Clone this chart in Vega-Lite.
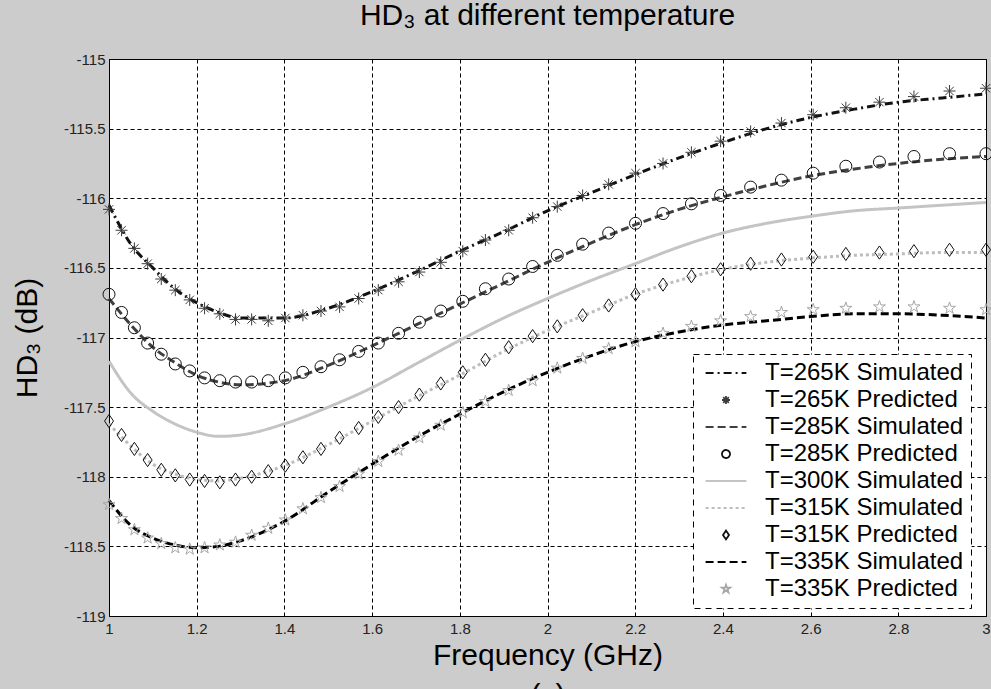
{
  "$schema": "https://vega.github.io/schema/vega-lite/v6.json",
  "width": 877,
  "height": 557,
  "autosize": {"type": "none"},
  "padding": {"left": 109, "top": 59, "right": 5, "bottom": 73},
  "background": "#cccccc",
  "title": {"text": "HD₃ at different temperature", "fontSize": 30, "font": "Liberation Sans", "fontWeight": "normal", "color": "#000000", "anchor": "middle", "offset": -3, "baseline": "alphabetic"},
  "datasets": {
    "sim": [
      {"f": 1.00, "T=265K Simulated": -116.05, "T=285K Simulated": -116.72, "T=300K Simulated": -117.17, "T=315K Simulated": -117.62, "T=335K Simulated": -118.17},
      {"f": 1.05, "T=265K Simulated": -116.33, "T=285K Simulated": -116.91, "T=300K Simulated": -117.40, "T=315K Simulated": -117.78, "T=335K Simulated": -118.35},
      {"f": 1.10, "T=265K Simulated": -116.50, "T=285K Simulated": -117.07, "T=300K Simulated": -117.53, "T=315K Simulated": -117.91, "T=335K Simulated": -118.44},
      {"f": 1.15, "T=265K Simulated": -116.65, "T=285K Simulated": -117.18, "T=300K Simulated": -117.62, "T=315K Simulated": -117.98, "T=335K Simulated": -118.49},
      {"f": 1.20, "T=265K Simulated": -116.75, "T=285K Simulated": -117.27, "T=300K Simulated": -117.68, "T=315K Simulated": -118.02, "T=335K Simulated": -118.51},
      {"f": 1.25, "T=265K Simulated": -116.82, "T=285K Simulated": -117.32, "T=300K Simulated": -117.71, "T=315K Simulated": -118.03, "T=335K Simulated": -118.50},
      {"f": 1.30, "T=265K Simulated": -116.86, "T=285K Simulated": -117.34, "T=300K Simulated": -117.70, "T=315K Simulated": -118.01, "T=335K Simulated": -118.46},
      {"f": 1.40, "T=265K Simulated": -116.86, "T=285K Simulated": -117.31, "T=300K Simulated": -117.62, "T=315K Simulated": -117.92, "T=335K Simulated": -118.32},
      {"f": 1.50, "T=265K Simulated": -116.79, "T=285K Simulated": -117.20, "T=300K Simulated": -117.50, "T=315K Simulated": -117.77, "T=335K Simulated": -118.11},
      {"f": 1.60, "T=265K Simulated": -116.67, "T=285K Simulated": -117.06, "T=300K Simulated": -117.36, "T=315K Simulated": -117.60, "T=335K Simulated": -117.91},
      {"f": 1.70, "T=265K Simulated": -116.53, "T=285K Simulated": -116.91, "T=300K Simulated": -117.19, "T=315K Simulated": -117.43, "T=335K Simulated": -117.72},
      {"f": 1.80, "T=265K Simulated": -116.38, "T=285K Simulated": -116.76, "T=300K Simulated": -117.02, "T=315K Simulated": -117.27, "T=335K Simulated": -117.55},
      {"f": 1.90, "T=265K Simulated": -116.24, "T=285K Simulated": -116.61, "T=300K Simulated": -116.86, "T=315K Simulated": -117.10, "T=335K Simulated": -117.39},
      {"f": 2.00, "T=265K Simulated": -116.09, "T=285K Simulated": -116.46, "T=300K Simulated": -116.72, "T=315K Simulated": -116.95, "T=335K Simulated": -117.25},
      {"f": 2.10, "T=265K Simulated": -115.96, "T=285K Simulated": -116.32, "T=300K Simulated": -116.59, "T=315K Simulated": -116.82, "T=335K Simulated": -117.13},
      {"f": 2.20, "T=265K Simulated": -115.83, "T=285K Simulated": -116.19, "T=300K Simulated": -116.47, "T=315K Simulated": -116.69, "T=335K Simulated": -117.03},
      {"f": 2.30, "T=265K Simulated": -115.71, "T=285K Simulated": -116.08, "T=300K Simulated": -116.35, "T=315K Simulated": -116.59, "T=335K Simulated": -116.96},
      {"f": 2.40, "T=265K Simulated": -115.60, "T=285K Simulated": -115.99, "T=300K Simulated": -116.25, "T=315K Simulated": -116.51, "T=335K Simulated": -116.91},
      {"f": 2.50, "T=265K Simulated": -115.50, "T=285K Simulated": -115.91, "T=300K Simulated": -116.18, "T=315K Simulated": -116.46, "T=335K Simulated": -116.88},
      {"f": 2.60, "T=265K Simulated": -115.42, "T=285K Simulated": -115.84, "T=300K Simulated": -116.13, "T=315K Simulated": -116.43, "T=335K Simulated": -116.85},
      {"f": 2.70, "T=265K Simulated": -115.36, "T=285K Simulated": -115.79, "T=300K Simulated": -116.09, "T=315K Simulated": -116.41, "T=335K Simulated": -116.83},
      {"f": 2.80, "T=265K Simulated": -115.31, "T=285K Simulated": -115.75, "T=300K Simulated": -116.07, "T=315K Simulated": -116.40, "T=335K Simulated": -116.83},
      {"f": 2.90, "T=265K Simulated": -115.28, "T=285K Simulated": -115.72, "T=300K Simulated": -116.05, "T=315K Simulated": -116.39, "T=335K Simulated": -116.84},
      {"f": 3.00, "T=265K Simulated": -115.25, "T=285K Simulated": -115.70, "T=300K Simulated": -116.03, "T=315K Simulated": -116.39, "T=335K Simulated": -116.86}
    ],
    "pred": [
      {"f": 1.0000, "T=265K Predicted": -116.08, "T=285K Predicted": -116.69, "T=315K Predicted": -117.60, "T=335K Predicted": -118.20},
      {"f": 1.0286, "T=265K Predicted": -116.23, "T=285K Predicted": -116.82, "T=315K Predicted": -117.70, "T=335K Predicted": -118.30},
      {"f": 1.0579, "T=265K Predicted": -116.36, "T=285K Predicted": -116.93, "T=315K Predicted": -117.80, "T=335K Predicted": -118.38},
      {"f": 1.0881, "T=265K Predicted": -116.47, "T=285K Predicted": -117.04, "T=315K Predicted": -117.88, "T=335K Predicted": -118.44},
      {"f": 1.1192, "T=265K Predicted": -116.58, "T=285K Predicted": -117.12, "T=315K Predicted": -117.95, "T=335K Predicted": -118.48},
      {"f": 1.1512, "T=265K Predicted": -116.66, "T=285K Predicted": -117.19, "T=315K Predicted": -117.99, "T=335K Predicted": -118.51},
      {"f": 1.1841, "T=265K Predicted": -116.73, "T=285K Predicted": -117.24, "T=315K Predicted": -118.02, "T=335K Predicted": -118.52},
      {"f": 1.2179, "T=265K Predicted": -116.79, "T=285K Predicted": -117.29, "T=315K Predicted": -118.03, "T=335K Predicted": -118.51},
      {"f": 1.2527, "T=265K Predicted": -116.83, "T=285K Predicted": -117.31, "T=315K Predicted": -118.04, "T=335K Predicted": -118.49},
      {"f": 1.2885, "T=265K Predicted": -116.87, "T=285K Predicted": -117.32, "T=315K Predicted": -118.02, "T=335K Predicted": -118.47},
      {"f": 1.3253, "T=265K Predicted": -116.87, "T=285K Predicted": -117.32, "T=315K Predicted": -118.00, "T=335K Predicted": -118.42},
      {"f": 1.3632, "T=265K Predicted": -116.88, "T=285K Predicted": -117.31, "T=315K Predicted": -117.96, "T=335K Predicted": -118.37},
      {"f": 1.4021, "T=265K Predicted": -116.86, "T=285K Predicted": -117.29, "T=315K Predicted": -117.92, "T=335K Predicted": -118.31},
      {"f": 1.4422, "T=265K Predicted": -116.84, "T=285K Predicted": -117.25, "T=315K Predicted": -117.86, "T=335K Predicted": -118.23},
      {"f": 1.4834, "T=265K Predicted": -116.81, "T=285K Predicted": -117.21, "T=315K Predicted": -117.80, "T=335K Predicted": -118.15},
      {"f": 1.5258, "T=265K Predicted": -116.78, "T=285K Predicted": -117.16, "T=315K Predicted": -117.72, "T=335K Predicted": -118.07},
      {"f": 1.5694, "T=265K Predicted": -116.72, "T=285K Predicted": -117.10, "T=315K Predicted": -117.65, "T=335K Predicted": -117.98},
      {"f": 1.6142, "T=265K Predicted": -116.66, "T=285K Predicted": -117.04, "T=315K Predicted": -117.57, "T=335K Predicted": -117.89},
      {"f": 1.6604, "T=265K Predicted": -116.60, "T=285K Predicted": -116.97, "T=315K Predicted": -117.50, "T=335K Predicted": -117.81},
      {"f": 1.7078, "T=265K Predicted": -116.53, "T=285K Predicted": -116.89, "T=315K Predicted": -117.41, "T=335K Predicted": -117.72},
      {"f": 1.7566, "T=265K Predicted": -116.46, "T=285K Predicted": -116.81, "T=315K Predicted": -117.33, "T=335K Predicted": -117.63},
      {"f": 1.8068, "T=265K Predicted": -116.38, "T=285K Predicted": -116.74, "T=315K Predicted": -117.25, "T=335K Predicted": -117.54},
      {"f": 1.8584, "T=265K Predicted": -116.30, "T=285K Predicted": -116.65, "T=315K Predicted": -117.16, "T=335K Predicted": -117.46},
      {"f": 1.9115, "T=265K Predicted": -116.23, "T=285K Predicted": -116.58, "T=315K Predicted": -117.07, "T=335K Predicted": -117.38},
      {"f": 1.9661, "T=265K Predicted": -116.14, "T=285K Predicted": -116.49, "T=315K Predicted": -116.99, "T=335K Predicted": -117.31},
      {"f": 2.0223, "T=265K Predicted": -116.06, "T=285K Predicted": -116.41, "T=315K Predicted": -116.92, "T=335K Predicted": -117.22},
      {"f": 2.0801, "T=265K Predicted": -115.98, "T=285K Predicted": -116.33, "T=315K Predicted": -116.84, "T=335K Predicted": -117.15},
      {"f": 2.1395, "T=265K Predicted": -115.90, "T=285K Predicted": -116.25, "T=315K Predicted": -116.77, "T=335K Predicted": -117.08},
      {"f": 2.2007, "T=265K Predicted": -115.82, "T=285K Predicted": -116.18, "T=315K Predicted": -116.69, "T=335K Predicted": -117.03},
      {"f": 2.2635, "T=265K Predicted": -115.75, "T=285K Predicted": -116.11, "T=315K Predicted": -116.62, "T=335K Predicted": -116.97},
      {"f": 2.3282, "T=265K Predicted": -115.67, "T=285K Predicted": -116.04, "T=315K Predicted": -116.56, "T=335K Predicted": -116.92},
      {"f": 2.3948, "T=265K Predicted": -115.59, "T=285K Predicted": -115.98, "T=315K Predicted": -116.51, "T=335K Predicted": -116.88},
      {"f": 2.4632, "T=265K Predicted": -115.52, "T=285K Predicted": -115.92, "T=315K Predicted": -116.47, "T=335K Predicted": -116.85},
      {"f": 2.5335, "T=265K Predicted": -115.46, "T=285K Predicted": -115.87, "T=315K Predicted": -116.44, "T=335K Predicted": -116.82},
      {"f": 2.6059, "T=265K Predicted": -115.40, "T=285K Predicted": -115.82, "T=315K Predicted": -116.42, "T=335K Predicted": -116.80},
      {"f": 2.6804, "T=265K Predicted": -115.35, "T=285K Predicted": -115.77, "T=315K Predicted": -116.40, "T=335K Predicted": -116.79},
      {"f": 2.7570, "T=265K Predicted": -115.31, "T=285K Predicted": -115.74, "T=315K Predicted": -116.39, "T=335K Predicted": -116.78},
      {"f": 2.8357, "T=265K Predicted": -115.27, "T=285K Predicted": -115.70, "T=315K Predicted": -116.38, "T=335K Predicted": -116.78},
      {"f": 2.9168, "T=265K Predicted": -115.23, "T=285K Predicted": -115.68, "T=315K Predicted": -116.37, "T=335K Predicted": -116.79},
      {"f": 3.0000, "T=265K Predicted": -115.21, "T=285K Predicted": -115.68, "T=315K Predicted": -116.37, "T=335K Predicted": -116.80}
    ]
  },
  "layer": [
    {
      "data": {"name": "sim"},
      "transform": [{"fold": ["T=265K Simulated", "T=285K Simulated", "T=300K Simulated", "T=315K Simulated", "T=335K Simulated"], "as": ["series", "v"]}],
      "mark": {"type": "line", "interpolate": "monotone", "strokeWidth": 3, "clip": false},
      "encoding": {
        "x": {"field": "f", "type": "quantitative", "scale": {"domain": [1, 3], "nice": false, "zero": false},
          "axis": {"values": [1, 1.2, 1.4, 1.6, 1.8, 2, 2.2, 2.4, 2.6, 2.8, 3], "labelExpr": "datum.value + ''", "labelFlush": false, "labelPadding": 5, "title": ["Frequency (GHz)", "(c)"], "titlePadding": 4, "titleLineHeight": 40, "titleFontSize": 30}},
        "y": {"field": "v", "type": "quantitative", "scale": {"domain": [-119, -115], "nice": false, "zero": false},
          "axis": {"values": [-119, -118.5, -118, -117.5, -117, -116.5, -116, -115.5, -115], "labelExpr": "datum.value + ''", "labelFlush": false, "labelPadding": 4, "title": "HD₃ (dB)", "titlePadding": 21, "titleFontSize": 30}},
        "color": {"field": "series", "type": "nominal",
          "scale": {"domain": ["T=265K Simulated", "T=265K Predicted", "T=285K Simulated", "T=285K Predicted", "T=300K Simulated", "T=315K Simulated", "T=315K Predicted", "T=335K Simulated", "T=335K Predicted"],
                    "range": ["#111111", "#3c3c3c", "#404040", "#111111", "#c4c4c4", "#bdbdbd", "#111111", "#000000", "#a6a6a6"]},
          "legend": {"title": null, "encoding": {"legend": {"strokeDash": {"value": [6, 5]}}}}},
        "strokeDash": {"field": "series", "type": "nominal",
          "scale": {"domain": ["T=265K Simulated", "T=265K Predicted", "T=285K Simulated", "T=285K Predicted", "T=300K Simulated", "T=315K Simulated", "T=315K Predicted", "T=335K Simulated", "T=335K Predicted"],
                    "range": [[8, 4, 2, 4], [1, 0], [8, 4], [1, 0], [1, 0], [3, 3], [1, 0], [8, 4], [1, 0]]},
          "legend": {"title": null}}
      }
    },
    {
      "data": {"name": "pred"},
      "transform": [{"fold": ["T=265K Predicted", "T=285K Predicted", "T=315K Predicted", "T=335K Predicted"], "as": ["series", "v"]}],
      "mark": {"type": "point", "filled": false, "size": 144, "strokeWidth": 1, "opacity": 1, "clip": false},
      "encoding": {
        "x": {"field": "f", "type": "quantitative"},
        "y": {"field": "v", "type": "quantitative"},
        "color": {"field": "series", "type": "nominal", "legend": {"title": null, "encoding": {"legend": {"strokeDash": {"value": [6, 5]}}}}},
        "shape": {"field": "series", "type": "nominal",
          "scale": {"domain": ["T=265K Simulated", "T=265K Predicted", "T=285K Simulated", "T=285K Predicted", "T=300K Simulated", "T=315K Simulated", "T=315K Predicted", "T=335K Simulated", "T=335K Predicted"],
                    "range": ["M-5.1,0L5.1,0", "M0,-1L0,1M-1,0L1,0M-0.7,-0.7L0.7,0.7M-0.7,0.7L0.7,-0.7", "M-5.1,0L5.1,0", "circle", "M-5.1,0L5.1,0", "M-5.1,0L5.1,0", "M0,-1.1L0.75,0L0,1.1L-0.75,0Z", "M-5.1,0L5.1,0", "M0,-1.05L0.236,-0.324L0.999,-0.324L0.382,0.124L0.617,0.85L0,0.401L-0.617,0.85L-0.382,0.124L-0.999,-0.324L-0.236,-0.324Z"]},
          "legend": {"title": null}}
      }
    }
  ],
  "config": {
    "font": "Liberation Sans",
    "view": {"fill": "white", "stroke": "#000000", "strokeWidth": 1},
    "axis": {"grid": true, "gridColor": "#000000", "gridDash": [4, 3], "gridWidth": 1, "gridOpacity": 1, "ticks": false, "domain": false,
      "labelFont": "Liberation Sans", "labelFontSize": 15, "labelColor": "#222222",
      "titleFont": "Liberation Sans", "titleFontSize": 28, "titleFontWeight": "normal", "titleColor": "#000000"},
    "legend": {"orient": "none", "legendX": 584, "legendY": 295, "padding": 7, "rowPadding": 3,
      "fillColor": "white", "strokeColor": "#000000", "strokeWidth": 1,
      "labelFont": "Liberation Sans", "labelFontSize": 24, "labelColor": "#000000", "labelLimit": 400,
      "labelExpr": "datum.label + '   '",
      "symbolSize": 64, "symbolStrokeWidth": 1.8, "symbolOffset": 14, "labelOffset": 27}
  }
}
